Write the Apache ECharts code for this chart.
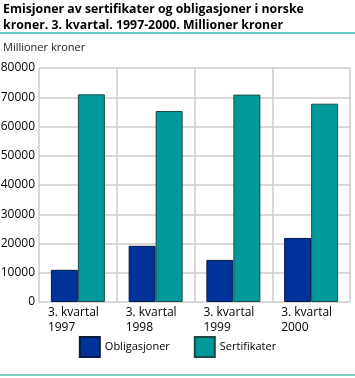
<!DOCTYPE html>
<html>
<head>
<meta charset="utf-8">
<script src="https://cdn.jsdelivr.net/npm/echarts@6/dist/echarts.min.js"></script>
<style>
  html, body { margin: 0; padding: 0; background: #fff; }
  #chart { width: 355px; height: 378px; }
</style>
</head>
<body>
<div id="chart"></div>
<script>
const categories = ['3. kvartal\n1997', '3. kvartal\n1998', '3. kvartal\n1999', '3. kvartal\n2000'];
const obligasjoner = [11000, 19200, 14400, 21900];
const sertifikater = [71000, 65300, 70900, 67800];

const chart = echarts.init(document.getElementById('chart'));
const font = '"Open Sans", "Noto Sans", sans-serif';

chart.setOption({
    animation: false,
    textStyle: { fontFamily: font },
    title: {
        text: 'Emisjoner av sertifikater og obligasjoner i norske\nkroner. 3. kvartal. 1997-2000. Millioner kroner',
        left: 3,
        top: 1,
        padding: 0,
        textStyle: { fontSize: 12.3, fontWeight: 'bold', color: '#000', lineHeight: 16, fontFamily: font }
    },
    graphic: [
        { type: 'rect', shape: { x: 0, y: 32, width: 355, height: 2 }, style: { fill: '#66cccc' } },
        { type: 'rect', shape: { x: 0, y: 374, width: 355, height: 2 }, style: { fill: '#7fcfc0' } },
        { type: 'text', left: 3, top: 42, style: { text: 'Millioner kroner', fontSize: 11, fill: '#222', fontFamily: font } }
    ],
    legend: {
        bottom: 20,
        left: 'center',
        padding: 0,
        itemWidth: 20,
        itemHeight: 20,
        itemGap: 24,
        icon: 'rect',
        textStyle: { fontSize: 11, color: '#000', fontFamily: font },
        data: ['Obligasjoner', 'Sertifikater']
    },
    grid: { left: 39, right: 5, top: 68, bottom: 76, outerBoundsMode: 'none', containLabel: false },
    xAxis: {
        type: 'category',
        data: categories,
        axisLine: { show: false },
        axisTick: { show: false },
        splitLine: { show: true, lineStyle: { color: '#cccccc', width: 1.5 } },
        axisLabel: {
            interval: 0,
            margin: 3,
            formatter: v => v.split('\n').map(s => '{a|' + s + '}').join('\n'),
            rich: { a: { width: 60, align: 'left', fontSize: 12, lineHeight: 15, color: '#000', fontFamily: font } }
        }
    },
    yAxis: {
        type: 'value',
        min: 0,
        max: 80000,
        interval: 10000,
        axisLine: { show: false },
        axisTick: { show: false },
        splitLine: { lineStyle: { color: '#cccccc', width: 1.5 } },
        axisLabel: {
            margin: 4,
            fontSize: 12,
            color: '#000',
            formatter: v => String(v)
        }
    },
    series: [
        {
            name: 'Obligasjoner',
            type: 'bar',
            data: obligasjoner,
            barWidth: 27,
            barGap: '0%',
            itemStyle: { color: '#003399', borderColor: '#0a1a40', borderWidth: 1 }
        },
        {
            name: 'Sertifikater',
            type: 'bar',
            data: sertifikater,
            barWidth: 27,
            barGap: '0%',
            itemStyle: { color: '#009999', borderColor: '#1e4a4a', borderWidth: 1 }
        }
    ]
});
</script>
</body>
</html>
